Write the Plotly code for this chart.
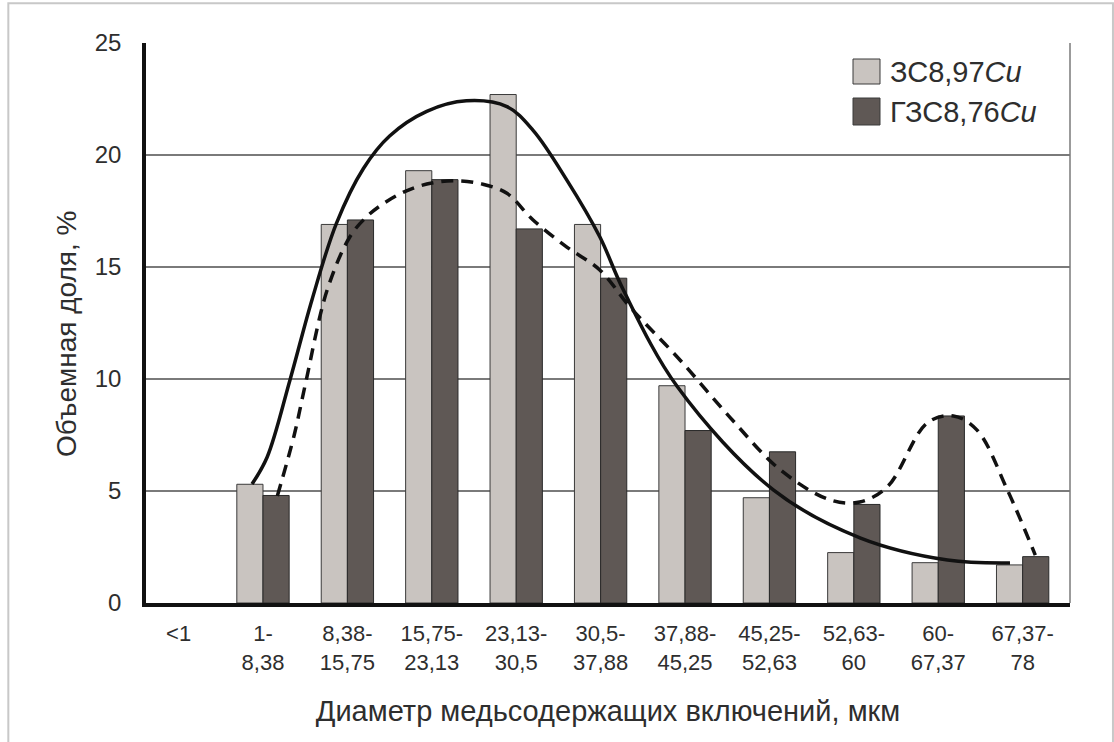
import plotly.graph_objects as go

# Size classes of copper-bearing inclusions, µm
categories = ["<1", "1-<br>8,38", "8,38-<br>15,75", "15,75-<br>23,13", "23,13-<br>30,5",
              "30,5-<br>37,88", "37,88-<br>45,25", "45,25-<br>52,63", "52,63-<br>60",
              "60-<br>67,37", "67,37-<br>78"]
cat_pos = list(range(len(categories)))

# Volume fraction, %
zs_897 = [None, 5.3, 16.9, 19.3, 22.7, 16.9, 9.7, 4.7, 2.25, 1.8, 1.7]
gzs_876 = [None, 4.8, 17.1, 18.9, 16.7, 14.5, 7.7, 6.75, 4.4, 8.35, 2.07]

# Smoothed distribution curves (position on category axis, %)
fit_zs_x = [0.87, 1.05, 1.32, 1.58, 1.87, 2.19, 2.50, 2.94, 3.41, 3.89, 4.20, 4.60, 4.99,
            5.27, 5.91, 7.05, 8.08, 9.11, 9.85]
fit_zs_y = [5.31, 6.52, 9.96, 13.53, 16.95, 19.40, 20.85, 21.95, 22.42, 22.16, 21.1, 18.88,
            16.35, 13.97, 9.65, 5.04, 2.90, 1.92, 1.79]
fit_gzs_x = [1.17, 1.37, 1.50, 1.76, 2.03, 2.23, 2.43, 2.70, 3.00, 3.30, 3.60, 3.89, 4.20,
             4.60, 4.99, 5.35, 5.94, 6.53, 7.13, 7.72, 8.07, 8.40, 8.87, 9.18, 9.46, 9.82,
             10.15]
fit_gzs_y = [4.78, 7.50, 9.73, 13.97, 16.35, 17.25, 17.84, 18.40, 18.75, 18.85, 18.70,
             18.29, 17.10, 15.89, 14.87, 13.21, 10.85, 8.30, 5.94, 4.60, 4.51, 5.2, 8.04,
             8.35, 7.72, 5.04, 2.14]

y_ticks = [0, 5, 10, 15, 20, 25]

LIGHT = "#c9c4c0"
DARK = "#5f5855"
TEXT = "#2e2e2e"
FONT = "Liberation Sans, Arial, sans-serif"

fig = go.Figure()
fig.add_trace(go.Bar(x=cat_pos, y=zs_897, name="ЗС8,97Cu", marker_color=LIGHT,
                     marker_line=dict(color="#3a3a3a", width=1), showlegend=False))
fig.add_trace(go.Bar(x=cat_pos, y=gzs_876, name="ГЗС8,76Cu", marker_color=DARK,
                     marker_line=dict(color="#2a2a2a", width=1), showlegend=False))
fig.add_trace(go.Scatter(x=fit_zs_x, y=fit_zs_y, mode="lines",
                         line=dict(color="#111111", width=3.5, shape="spline", smoothing=1.0),
                         showlegend=False, hoverinfo="skip"))
fig.add_trace(go.Scatter(x=fit_gzs_x, y=fit_gzs_y, mode="lines",
                         line=dict(color="#111111", width=3.5, shape="spline", smoothing=1.0,
                                   dash="12px,8px"),
                         showlegend=False, hoverinfo="skip"))

L, T, W, H = 146, 43, 924, 560

# outer frame, right border of the plot area
shapes = [
    dict(type="rect", xref="paper", yref="paper", x0=-0.149, x1=1.0465, y0=-0.3, y1=1.071,
         line=dict(color="#c8c8c8", width=2), fillcolor="rgba(0,0,0,0)", layer="below"),
    dict(type="line", xref="paper", yref="y", x0=1, x1=1, y0=0, y1=25,
         line=dict(color="#7a7a7a", width=1.5)),
]

annotations = [
    dict(xref="paper", yref="paper", x=(66 - L) / W, y=1 - (334 - T) / H,
         xanchor="center", yanchor="middle", textangle=-90, showarrow=False,
         text="Объемная доля, %", font=dict(family=FONT, size=28, color=TEXT)),
]

# legend swatches and labels
legend_items = [("ЗС8,97<i>Cu</i>", LIGHT, 59, 84), ("ГЗС8,76<i>Cu</i>", DARK, 98, 125)]
for text, color, ytop, ybot in legend_items:
    shapes.append(dict(type="rect", xref="paper", yref="paper",
                       x0=(853 - L) / W, x1=(880 - L) / W,
                       y0=1 - (ybot - T) / H, y1=1 - (ytop - T) / H,
                       fillcolor=color, line=dict(color="#3a3a3a", width=1)))
    annotations.append(dict(xref="paper", yref="paper", x=(888 - L) / W,
                            y=1 - ((ytop + ybot) / 2 - T) / H, xanchor="left", yanchor="middle",
                            text=text, showarrow=False,
                            font=dict(family=FONT, size=29, color=TEXT)))

fig.update_layout(
    width=1114, height=742,
    margin=dict(l=L, r=1114 - L - W, t=T, b=742 - T - H),
    paper_bgcolor="white", plot_bgcolor="white",
    barmode="group", bargap=0.38, bargroupgap=0,
    font=dict(family=FONT, color=TEXT),
    shapes=shapes, annotations=annotations,
    xaxis=dict(range=[-0.386, 10.561], tickmode="array", tickvals=cat_pos, ticktext=categories,
               showgrid=False, zeroline=False, showline=True, linecolor="#111111", linewidth=3.5,
               ticks="", ticklabelstandoff=8, tickfont=dict(size=22, color=TEXT),
               title=dict(text="Диаметр медьсодержащих включений, мкм",
                          font=dict(size=29, color=TEXT), standoff=28)),
    yaxis=dict(range=[0, 25], tickmode="array", tickvals=y_ticks,
               showgrid=True, gridcolor="#7a7a7a", gridwidth=1.5, zeroline=False,
               showline=True, linecolor="#111111", linewidth=3.5, ticks="",
               ticklabelstandoff=16, tickfont=dict(size=24, color=TEXT)),
)

fig.write_html("out.html")
